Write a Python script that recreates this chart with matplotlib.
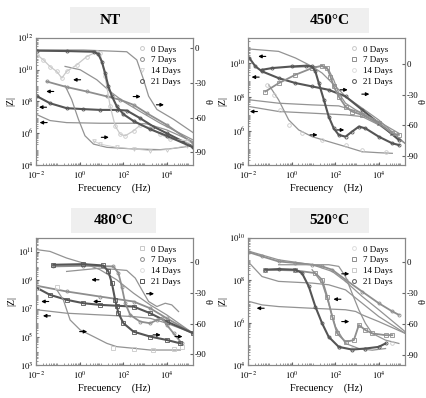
import numpy as np
import matplotlib
matplotlib.use('Agg')
from matplotlib import pyplot as plt
from matplotlib.lines import Line2D
from matplotlib.patches import Rectangle
from matplotlib.ticker import LogLocator, NullFormatter

plt.rcParams['font.family'] = ['Liberation Serif', 'DejaVu Serif']
plt.rcParams['mathtext.fontset'] = 'stix'
plt.rcParams['axes.unicode_minus'] = False

W, H = 427, 398

# ---- data: log10(frequency / Hz) and log10(|Z|) or phase angle (deg) ----
# NT
nt_p21_f = [-1.94, -0.60, 0.63, 0.85, 1.01, 1.16, 1.31, 1.47, 1.69, 2.0, 2.46, 3.22, 3.98, 5.18]
nt_p21 = [-2, -2.3, -2.9, -4.9, -11.4, -21.4, -32.9, -41.4, -50, -57.1, -62.9, -70, -75.7, -85.7]
nt_z21_f = [-1.94, -1.36, -0.60, 0.17, 0.93, 1.69, 2.15, 2.76, 3.37, 3.98, 5.18]
nt_z21 = [8.32, 7.89, 7.58, 7.52, 7.47, 7.47, 7.43, 6.95, 6.42, 6.0, 5.16]
nt_p0_f = [-1.94, -1.66, -1.36, -1.05, -0.82, -0.60, -0.14, 0.32, 0.78, 0.93, 1.16, 1.39, 1.62,
           1.85, 2.08, 2.46, 2.76, 3.22, 3.68, 4.14, 4.90]
nt_p0 = [-5.7, -10, -15.7, -20, -25.7, -20, -14.3, -7.1, -2.9, -4.3, -24.3, -50, -67.1,
         -74.3, -75.7, -71.4, -66.6, -68.6, -74.3, -78.6, -80]
nt_z7_f = [-1.51, -0.60, 0.32, 1.24, 1.85, 2.46, 3.07, 3.98, 5.18]
nt_z7 = [9.26, 8.91, 8.63, 8.32, 8.11, 7.79, 7.26, 6.53, 5.37]
nt_p14_f = [0.63, 0.93, 1.69, 2.46, 3.22, 3.98, 4.90]
nt_p14 = [-80, -82.9, -85.7, -87.1, -88.6, -87.7, -84.3]
nt_fit1_f = [-1.94, 0.17, 2.15, 2.61, 2.92, 3.15, 3.53, 4.29, 5.18]
nt_fit1 = [-1.4, -1.4, -2.9, -10, -27.1, -41.4, -52.9, -61.4, -72.9]
nt_fit2_f = [-0.67, 0.02, 0.78, 1.39, 2.0, 2.76, 3.68, 5.18]
nt_fit2 = [10.21, 10.0, 9.37, 8.63, 8.0, 7.37, 6.63, 5.58]
nt_fit3_f = [-1.94, -1.36, -0.60, 0.93, 2.46, 3.07, 3.98, 5.18]
nt_fit3 = [7.16, 6.80, 6.67, 6.63, 6.63, 6.59, 6.21, 5.47]
nt_fit4_f = [-0.67, -0.37, -0.06, 0.24, 0.63, 1.24, 2.46, 3.68, 4.29, 5.18]
nt_fit4 = [-32.3, -44.3, -61.4, -75.7, -82.9, -85.7, -87.1, -87.7, -86.6, -84.3]

# 450 C
t450_p21_f = [-1.36, -0.90, 0.02, 0.63, 0.93, 1.08, 1.24, 1.47, 1.69, 1.92, 2.15, 2.46, 2.76,
              3.07, 3.37, 3.98, 4.60, 4.90]
t450_p21 = [-5.6, -3.9, -2.3, -1.6, -2.3, -7.2, -18.8, -35.2, -51.6, -63.2, -69.7, -71.4, -66.4,
            -61.5, -63.2, -71.4, -78, -79.6]
t450_p7_f = [-1.21, -0.60, 0.17, 0.93, 1.39, 1.62, 1.77, 1.92, 2.15, 2.46, 2.76, 3.22, 3.98, 4.60, 4.90]
t450_p7 = [-27, -18.8, -10.5, -3.9, -1.6, -3.9, -12.2, -22, -31.9, -41.8, -46.7, -50, -58.2, -68.1, -69.7]
t450_z21_f = [-1.94, -1.66, -1.36, -0.60, 0.17, 0.93, 1.69, 2.46, 3.22, 3.98, 4.90]
t450_z21 = [10.32, 9.82, 9.53, 9.13, 8.84, 8.64, 8.44, 8.05, 7.26, 6.47, 5.48]
t450_fit1_f = [-1.94, -0.60, 0.17, 0.93, 1.39, 1.85, 2.46, 3.22, 3.98, 5.18]
t450_fit1 = [10.85, 10.71, 10.32, 9.82, 9.43, 8.84, 8.05, 7.36, 6.66, 5.28]
t450_fit2_f = [-1.94, -0.60, 0.93, 2.15, 2.76, 3.22, 3.98, 5.18]
t450_fit2 = [7.85, 7.65, 7.55, 7.49, 7.26, 7.06, 6.37, 5.28]
t450_fit3_f = [-1.94, -0.60, 0.93, 2.46, 3.22, 3.98]
t450_fit3 = [7.45, 7.16, 7.06, 6.96, 6.86, 6.37]
t450_fit4_f = [-1.05, -0.60, -0.14, 0.32, 0.93, 1.69, 2.46, 3.22, 3.98, 4.60]
t450_fit4 = [-20.4, -35.2, -54.9, -64.8, -71.4, -76.3, -81.2, -86.2, -87.2, -87.8]
t450_fit5_f = [0.02, 1.39, 1.69, 1.92, 2.15, 2.46, 2.92, 3.37, 3.98, 4.90]
t450_fit5 = [-3, -2.3, -5.6, -15.5, -28.6, -38.5, -45, -50, -56.6, -68.1]
t450_p0_f = [-1.13, -0.82, -0.52, -0.14, 0.47, 1.39, 2.46, 3.22, 4.29]
t450_p0 = [-20.4, -30.3, -45, -59.9, -68.1, -74.7, -79.6, -84.5, -86.2]

# 480 C
t480_fit1_f = [-1.94, -1.36, -0.60, 0.17, 0.93, 1.69, 2.46, 3.22, 3.98, 5.18]
t480_fit1 = [11.17, 11.05, 10.58, 10.22, 9.75, 9.04, 8.09, 7.26, 6.55, 5.25]
t480_fit2_f = [-0.60, 0.93, 2.15, 2.54, 2.84, 3.15, 3.53, 3.91, 4.21, 4.52]
t480_fit2 = [-9.1, -5.9, -8.1, -15.6, -27, -38.4, -43.3, -40.1, -41.7, -48.2]
t480_p21_f = [-1.21, 0.17, 1.08, 1.31, 1.47, 1.62, 1.77, 2.0, 2.46, 3.22, 3.98, 4.60]
t480_p21 = [-2.6, -2, -3.3, -9.1, -20.5, -36.8, -49.8, -59.6, -67.8, -72.6, -75.9, -79.2]
t480_p7_f = [-1.21, 0.17, 1.54, 1.77, 1.92, 2.08, 2.31, 2.76, 3.22, 3.53, 3.76, 3.98, 4.29, 4.67]
t480_p7 = [-4.2, -3.6, -4.2, -10.7, -23.8, -40.1, -51.5, -58, -59.6, -56.4, -54.7, -61.2, -69.4, -79.2]
t480_z21_f = [-1.94, -1.36, -0.60, 0.17, 0.93, 1.69, 2.46, 3.22, 3.98, 5.18]
t480_z21 = [8.45, 7.97, 7.62, 7.38, 7.26, 7.20, 7.14, 6.67, 6.08, 5.25]
t480_z7_f = [-1.94, -0.60, 0.93, 2.46, 3.22, 3.98, 5.18]
t480_z7 = [8.61, 8.21, 7.85, 7.5, 7.02, 6.31, 5.25]
t480_fit3_f = [-1.94, -0.60, 0.93, 2.46, 3.22, 3.98, 5.18]
t480_fit3 = [6.91, 6.67, 6.55, 6.43, 6.31, 5.96, 5.25]
t480_fit4_f = [-1.05, -0.75, -0.44, 0.02, 0.63, 1.24, 1.69, 2.46, 3.22, 3.98, 4.60]
t480_fit4 = [-27, -36.8, -56.4, -66.1, -72.6, -79.2, -82.4, -84, -85.7, -85.7, -85.7]
t480_p0_f = [-1.94, -1.05, 1.54, 2.46, 3.37, 4.29, 4.67]
t480_p0 = [-25, -24, -84, -84.6, -85.7, -85, -82.4]

# 520 C
t520_z7_f = [-1.94, -1.36, -0.60, 0.17, 0.93, 1.39, 1.85, 2.46, 3.22, 3.98, 4.60, 4.90]
t520_z7 = [9.32, 9.13, 8.89, 8.82, 8.74, 8.66, 8.5, 8.03, 7.47, 6.92, 6.53, 6.37]
t520_fit1_f = [-1.94, -0.60, 0.93, 1.85, 2.46, 3.22, 3.98, 5.18]
t520_fit1 = [9.37, 8.97, 8.74, 8.42, 7.95, 7.24, 6.61, 5.58]
t520_fit2_f = [-0.60, 1.69, 2.15, 2.46, 2.76, 3.07, 3.37, 3.68, 4.29, 4.90]
t520_fit2 = [-2.6, -2.6, -4.2, -14, -30.1, -46.3, -59.2, -68.9, -75.4, -78.6]
t520_p21_f = [-1.21, -0.60, 0.17, 0.47, 0.78, 1.08, 1.39, 1.69, 2.15, 2.76, 3.37, 3.98, 4.29]
t520_p21 = [-7.4, -6.8, -7.4, -10.7, -23.6, -43, -59.2, -72.2, -81.9, -84.5, -83.5, -81.9, -78.6]
t520_p7_f = [-1.21, 0.17, 1.08, 1.39, 1.62, 1.85, 2.08, 2.46, 2.84, 3.07, 3.37, 3.68, 4.29, 4.60]
t520_p7 = [-7.4, -8.1, -10.7, -17.2, -33.3, -52.8, -68.9, -77, -75.4, -60.8, -65.7, -68.9, -70.6, -70.6]
t520_fit3_f = [-1.94, -1.36, -0.60, 0.93, 1.69, 2.46, 3.22, 3.98, 5.18]
t520_fit3 = [8.82, 8.18, 7.95, 7.87, 7.79, 7.55, 6.92, 6.29, 5.5]
t520_fit4_f = [-1.94, -1.36, -0.60, 0.93, 2.46, 2.92, 3.22, 3.98, 5.18]
t520_fit4 = [7.0, 6.84, 6.76, 6.68, 6.61, 6.53, 6.37, 6.05, 5.5]
t520_fit5_f = [0.93, 1.39, 1.69, 2.0, 2.46, 3.07, 3.68, 4.29]
t520_fit5 = [-7.4, -20.4, -39.8, -62.5, -78.6, -83.5, -85.1, -83.5]
t520_p14_f = [2.15, 2.76, 3.37, 3.98, 4.60]
t520_p14 = [-81.9, -83.5, -83.5, -81.9, -78.6]

days = ['0 Days', '7 Days', '14 Days', '21 Days']

# ---- styles ----
DARK = dict(color='#555555', lw=1.5, marker='o', ms=2.2, mfc='none', mew=0.6)
GRAY = dict(color='#8e8e8e', lw=1.3, marker='s', ms=2.2, mfc='none', mew=0.6)
LIGHT = dict(color='#c9c9c9', lw=0.9, marker='o', ms=2.6, mfc='none', mew=0.6)
FIT = dict(color='#939393', lw=0.9)


def make_panel(left, top, title, box, zlim, zticks, plim, series, arrows_l, arrows_r, leg_marks):
    ax = fig.add_axes([left / W, 1 - (top + 127) / H, 157 / W, 127 / H])
    ax2 = ax.twinx()
    for f, v, side, st in series:
        x = np.power(10.0, f)
        if side == 'z':
            ax.plot(x, np.power(10.0, v), **st)
        else:
            ax2.plot(x, v, **st)
    ax.set_xscale('log')
    ax.set_yscale('log')
    ax.set_xlim(1e-2, 10 ** 5.18)
    ax.set_ylim(10.0 ** zlim[0], 10.0 ** zlim[1])
    ax.set_yticks([10.0 ** e for e in zticks])
    ax.set_yticklabels([r'$10^{%d}$' % e for e in zticks])
    ax.yaxis.set_minor_locator(LogLocator(base=10, subs='auto', numticks=20))
    ax.yaxis.set_minor_formatter(NullFormatter())
    ax.set_xticks([1e-2, 1, 1e2, 1e4])
    ax.set_xticklabels([r'$10^{-2}$', r'$10^{0}$', r'$10^{2}$', r'$10^{4}$'])
    ax.xaxis.set_minor_locator(LogLocator(base=10, subs='auto', numticks=20))
    ax.xaxis.set_minor_formatter(NullFormatter())
    ax2.set_ylim(*plim)
    ax2.set_yticks([0, -30, -60, -90])
    ax2.set_yticklabels(['0', '-30', '-60', '-90'])
    for a in (ax, ax2):
        a.tick_params(which='major', direction='in', labelsize=6.3, pad=1.5, length=2.5,
                      color='#666666')
        a.tick_params(which='minor', direction='in', length=1.3, color='#888888')
        for s in a.spines.values():
            s.set_color('#888888')
            s.set_linewidth(0.8)
    ax.tick_params(axis='x', which='major', pad=3.5)
    ax.set_xlabel('Frecuency    (Hz)', fontsize=7.5, labelpad=1.5)
    ax.set_ylabel('|Z|', fontsize=7, labelpad=1)
    ax2.set_ylabel('θ', fontsize=7.5, labelpad=0)

    for fx, fy in arrows_l:
        ax2.annotate('', xy=(fx - 0.024, fy), xytext=(fx + 0.024, fy), xycoords='axes fraction',
                     arrowprops=dict(arrowstyle='-|>', color='k', lw=0.8, mutation_scale=5,
                                     shrinkA=0, shrinkB=0))
    for fx, fy in arrows_r:
        ax2.annotate('', xy=(fx + 0.024, fy), xytext=(fx - 0.024, fy), xycoords='axes fraction',
                     arrowprops=dict(arrowstyle='-|>', color='k', lw=0.8, mutation_scale=5,
                                     shrinkA=0, shrinkB=0))

    handles = [Line2D([], [], ls='none', marker=m, color=c, ms=2.8, mfc='none', mew=0.7)
               for m, c in leg_marks]
    ax2.legend(handles, days, loc='upper right', bbox_to_anchor=(0.97, 1.0), frameon=False,
               fontsize=6.5, handlelength=0.8, handletextpad=0.6, labelspacing=0.28,
               borderpad=0.3)

    x0, y0, x1, y1 = box
    fig.add_artist(Rectangle((x0 / W, 1 - y1 / H), (x1 - x0) / W, (y1 - y0) / H,
                             transform=fig.transFigure, facecolor='#efefef', edgecolor='none'))
    fig.text((x0 + x1) / 2 / W, 1 - (y0 + y1) / 2 / H, title, ha='center', va='center',
             fontsize=11, fontweight='bold')
    return ax, ax2


fig = plt.figure(figsize=(W / 100, H / 100), dpi=100)

nt_series = [
    (nt_fit1_f, nt_fit1, 'p', FIT), (nt_fit2_f, nt_fit2, 'z', FIT),
    (nt_fit3_f, nt_fit3, 'z', FIT), (nt_fit4_f, nt_fit4, 'p', FIT),
    (nt_p14_f, nt_p14, 'p', dict(LIGHT, marker='v', lw=0.6)),
    (nt_p0_f, nt_p0, 'p', LIGHT),
    (nt_z7_f, nt_z7, 'z', dict(GRAY, marker='o')),
    (nt_z21_f, nt_z21, 'z', DARK), (nt_p21_f, nt_p21, 'p', DARK),
]
make_panel(36, 38, 'NT', (70, 7, 150, 33), (4, 12), [4, 6, 8, 10, 12], (-101, 9), nt_series,
           [(0.26, 0.671), (0.089, 0.579), (0.043, 0.455), (0.047, 0.334)],
           [(0.643, 0.539), (0.791, 0.474), (0.44, 0.218)],
           [('o', '#c9c9c9'), ('o', '#8e8e8e'), ('v', '#d5d5d5'), ('o', '#555555')])

t450_series = [
    (t450_fit1_f, t450_fit1, 'z', FIT), (t450_fit2_f, t450_fit2, 'z', FIT),
    (t450_fit3_f, t450_fit3, 'z', FIT), (t450_fit4_f, t450_fit4, 'p', FIT),
    (t450_fit5_f, t450_fit5, 'p', FIT),
    (t450_p0_f, t450_p0, 'p', dict(LIGHT, lw=0)),
    (t450_p7_f, t450_p7, 'p', GRAY),
    (t450_z21_f, t450_z21, 'z', DARK), (t450_p21_f, t450_p21, 'p', DARK),
]
make_panel(248, 38, '450°C', (290, 8, 369, 33), (4, 11.5), [4, 6, 8, 10], (-99.3, 25.7),
           t450_series,
           [(0.089, 0.855), (0.047, 0.692), (0.036, 0.421)],
           [(0.611, 0.592), (0.749, 0.558), (0.589, 0.276), (0.419, 0.237)],
           [('o', '#c9c9c9'), ('s', '#8e8e8e'), ('o', '#dddddd'), ('o', '#555555')])

t480_series = [
    (t480_fit1_f, t480_fit1, 'z', FIT), (t480_fit2_f, t480_fit2, 'p', FIT),
    (t480_fit3_f, t480_fit3, 'z', FIT), (t480_fit4_f, t480_fit4, 'p', FIT),
    (t480_p0_f, t480_p0, 'p', dict(LIGHT, marker='s', lw=0)),
    (t480_z7_f, t480_z7, 'z', dict(GRAY, marker='o')),
    (t480_p7_f, t480_p7, 'p', dict(GRAY, marker='o')),
    (t480_z21_f, t480_z21, 'z', dict(DARK, marker='s')),
    (t480_p21_f, t480_p21, 'p', dict(DARK, marker='s')),
]
make_panel(36, 238, '480°C', (71, 208, 156, 233), (3, 12), [3, 5, 7, 9, 11], (-100.3, 23.5),
           t480_series,
           [(0.377, 0.671), (0.057, 0.5), (0.068, 0.387), (0.387, 0.5)],
           [(0.728, 0.561), (0.302, 0.263), (0.77, 0.237), (0.909, 0.224)],
           [('s', '#c9c9c9'), ('o', '#8e8e8e'), ('o', '#dddddd'), ('s', '#555555')])

t520_series = [
    (t520_fit1_f, t520_fit1, 'z', FIT), (t520_fit2_f, t520_fit2, 'p', FIT),
    (t520_fit3_f, t520_fit3, 'z', FIT), (t520_fit4_f, t520_fit4, 'z', FIT),
    (t520_fit5_f, t520_fit5, 'p', FIT),
    (t520_p14_f, t520_p14, 'p', dict(LIGHT, lw=0)),
    (t520_z7_f, t520_z7, 'z', dict(GRAY, marker='o')),
    (t520_p7_f, t520_p7, 'p', GRAY),
    (t520_p21_f, t520_p21, 'p', DARK),
]
make_panel(248, 238, '520°C', (290, 208, 369, 233), (4, 10), [4, 6, 8, 10], (-99.4, 23.2),
           t520_series,
           [(0.568, 0.518), (0.079, 0.447)],
           [(0.621, 0.718), (0.621, 0.342)],
           [('o', '#dddddd'), ('s', '#8e8e8e'), ('s', '#c9c9c9'), ('o', '#555555')])

fig.savefig('out.png', dpi=100)
